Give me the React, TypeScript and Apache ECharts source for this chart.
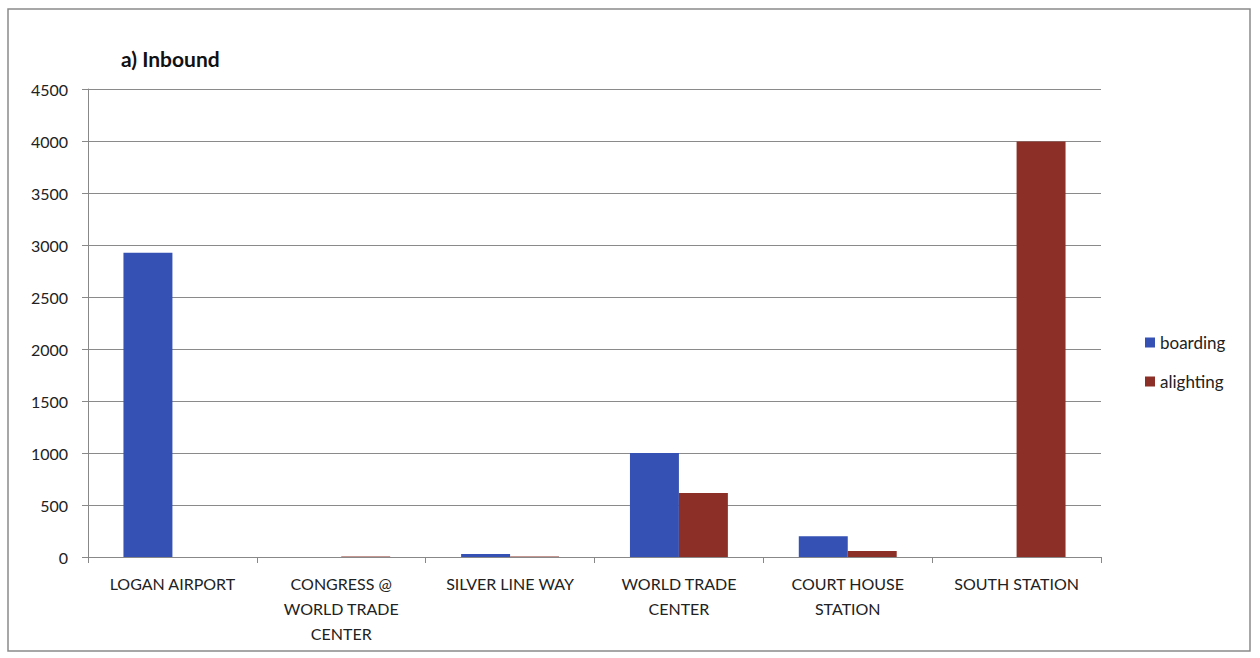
import React, { useEffect, useRef } from "react";
import * as echarts from "echarts";

const categories = [
  "LOGAN AIRPORT",
  "CONGRESS @\nWORLD TRADE\nCENTER",
  "SILVER LINE WAY",
  "WORLD TRADE\nCENTER",
  "COURT HOUSE\nSTATION",
  "SOUTH STATION",
];
const boarding = [2925, 0, 30, 1000, 200, 0];
const alighting = [0, 5, 5, 615, 58, 3995];
const yTicks = { min: 0, max: 4500, interval: 500 };

const FONT = "Lato, 'Open Sans', sans-serif";

export default function App() {
  const ref = useRef<HTMLDivElement>(null);
  useEffect(() => {
    if (!ref.current) return;
    const chart = echarts.init(ref.current, null, { renderer: "svg" });
    chart.setOption({
      animation: false,
      backgroundColor: "#ffffff",
      textStyle: { fontFamily: FONT },
      title: {
        text: "a) Inbound",
        left: 116,
        top: 43,
        textStyle: { fontFamily: FONT, fontSize: 21, fontWeight: "bold", color: "#111" },
      },
      graphic: [
        {
          type: "rect",
          shape: { x: 8, y: 9, width: 1242, height: 642 },
          style: { fill: "none", stroke: "#8a8a8a", lineWidth: 1.5 },
          silent: true,
        },
      ],
      legend: {
        orient: "vertical",
        left: 1140,
        top: 329,
        itemWidth: 10,
        itemHeight: 10,
        itemGap: 22,
        icon: "rect",
        textStyle: { fontFamily: FONT, fontSize: 17, color: "#222" },
        data: ["boarding", "alighting"],
      },
      grid: { left: 88, right: 159, top: 89, bottom: 101 },
      xAxis: {
        type: "category",
        data: categories,
        axisLine: { lineStyle: { color: "#888", width: 1 } },
        axisTick: { show: true, alignWithLabel: false, length: 6, lineStyle: { color: "#888" } },
        axisLabel: {
          interval: 0,
          fontFamily: FONT,
          fontSize: 16,
          color: "#222",
          margin: 14,
          lineHeight: 25,
        },
      },
      yAxis: {
        type: "value",
        min: yTicks.min,
        max: yTicks.max,
        interval: yTicks.interval,
        axisLine: { show: true, lineStyle: { color: "#888", width: 1 } },
        axisTick: { show: true, length: 6, lineStyle: { color: "#888" } },
        splitLine: { show: true, lineStyle: { color: "#8a8a8a", width: 1 } },
        axisLabel: {
          fontFamily: FONT,
          fontSize: 16,
          color: "#222",
          margin: 20,
          formatter: (v: number) => String(v),
        },
      },
      series: [
        {
          name: "boarding",
          type: "bar",
          data: boarding,
          barGap: "0%",
          barCategoryGap: "42%",
          itemStyle: { color: "#3551B4" },
        },
        {
          name: "alighting",
          type: "bar",
          data: alighting,
          barGap: "0%",
          barCategoryGap: "42%",
          itemStyle: { color: "#8C3027" },
        },
      ],
    });
    return () => chart.dispose();
  }, []);
  return (
    <div
      ref={ref}
      style={{ position: "fixed", left: 0, top: 0, width: 1260, height: 658 }}
    />
  );
}
